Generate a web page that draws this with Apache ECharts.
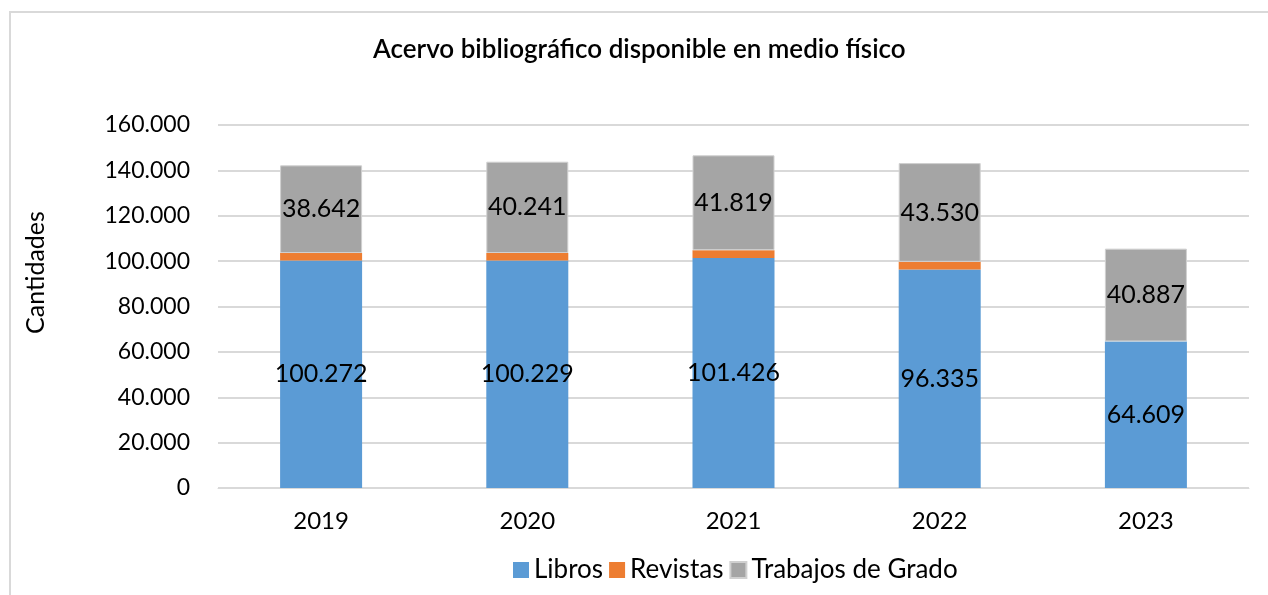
<!DOCTYPE html>
<html>
<head>
<meta charset="utf-8">
<script src="https://cdn.jsdelivr.net/npm/echarts@6/dist/echarts.min.js"></script>
<style>
  html, body { margin: 0; padding: 0; background: #fff; }
  #wrap { position: relative; width: 1268px; height: 595px; }
  #frame {
    position: absolute; left: 9px; top: 11px; right: 0; bottom: 0;
    border-left: 2px solid #d9d9d9; border-top: 2px solid #d9d9d9;
    pointer-events: none;
  }
  #acervo { position: absolute; left: 0; top: 0; width: 1268px; height: 595px; }
</style>
</head>
<body>
<div id="wrap">
  <div id="acervo"></div>
  <div id="frame"></div>
</div>
<script>
// años
const years = ['2019', '2020', '2021', '2022', '2023']
// series
const libros = [100272, 100229, 101426, 96335, 64609]
const revistas = [3300, 3350, 3400, 3350, 0]
const trabajos = [38642, 40241, 41819, 43530, 40887]
const yTicks = { min: 0, max: 160000, interval: 20000 }

const font = 'Lato, "Open Sans", sans-serif'

// separador de miles con punto
function miles (v) {
  return String(v).replace(/\B(?=(\d{3})+(?!\d))/g, '.')
}

const dataLabel = {
  show: true,
  position: 'inside',
  color: '#000',
  fontSize: 25,
  fontFamily: font,
  formatter: p => miles(p.value)
}

const option = {
  animation: false,
  title: {
    text: 'Acervo bibliográfico disponible en medio físico',
    left: 368,
    top: 32,
    textStyle: { fontSize: 26, fontWeight: 600, color: '#000', fontFamily: font }
  },
  grid: { left: 218, right: 19, top: 125, bottom: 107 },
  legend: {
    bottom: 7,
    left: 508,
    itemWidth: 16,
    itemHeight: 16,
    itemGap: 6,
    icon: 'rect',
    textStyle: { fontSize: 26, color: '#000', fontFamily: font, padding: [0, 0, 0, 0] },
    data: ['Libros', 'Revistas', 'Trabajos de Grado']
  },
  xAxis: {
    type: 'category',
    data: years,
    axisLine: { lineStyle: { color: '#d9d9d9' } },
    axisTick: { show: false },
    axisLabel: { fontSize: 24, color: '#000', fontFamily: font, margin: 21 }
  },
  yAxis: {
    type: 'value',
    min: yTicks.min,
    max: yTicks.max,
    interval: yTicks.interval,
    name: 'Cantidades',
    nameLocation: 'middle',
    nameGap: 170,
    nameTextStyle: { fontSize: 25, color: '#000', fontFamily: font, padding: [0, 0, 0, 68] },
    axisLine: { show: false },
    axisTick: { show: false },
    splitLine: { lineStyle: { color: '#d9d9d9', width: 2 } },
    axisLabel: { fontSize: 23, color: '#000', fontFamily: font, margin: 28, formatter: miles }
  },
  series: [
    {
      name: 'Libros', type: 'bar', stack: 'total', barWidth: 82,
      itemStyle: { color: '#5b9bd5' },
      label: dataLabel,
      data: libros
    },
    {
      name: 'Revistas', type: 'bar', stack: 'total', barWidth: 82,
      itemStyle: { color: '#ed7d31' },
      data: revistas
    },
    {
      name: 'Trabajos de Grado', type: 'bar', stack: 'total', barWidth: 82,
      itemStyle: { color: '#a5a5a5', borderColor: '#d0d0d0', borderWidth: 1 },
      label: dataLabel,
      data: trabajos
    }
  ]
}

const mychart = echarts.init(document.getElementById('acervo'))
mychart.setOption(option)
</script>
</body>
</html>
